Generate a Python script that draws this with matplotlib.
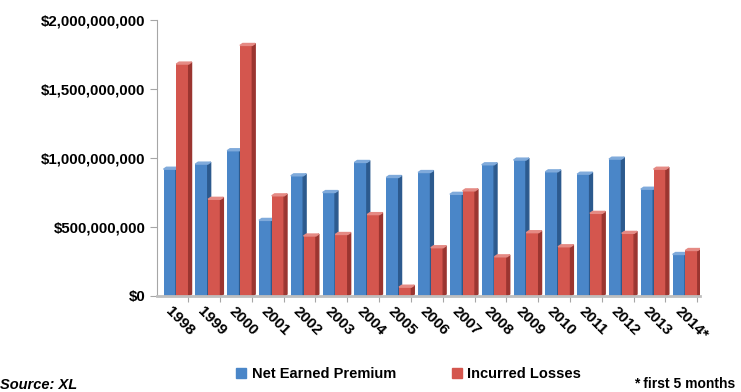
import numpy as np
import matplotlib
matplotlib.use('Agg')
import matplotlib.pyplot as plt
from matplotlib.patches import Polygon
from matplotlib.lines import Line2D
import matplotlib.transforms as mtransforms

years = ['1998', '1999', '2000', '2001', '2002', '2003', '2004', '2005', '2006',
         '2007', '2008', '2009', '2010', '2011', '2012', '2013', '2014*']
# values in $ millions
premium = [933, 970, 1067, 562, 885, 764, 982, 873, 909,
           751, 965, 999, 914, 897, 1006, 788, 315]
losses = [1695, 715, 1830, 740, 449, 460, 604, 78, 364,
          776, 298, 473, 371, 613, 468, 933, 344]
yticks = [0, 500, 1000, 1500, 2000]
ytick_labels = ['$0', '$500,000,000', '$1,000,000,000', '$1,500,000,000', '$2,000,000,000']

plt.rcParams['font.family'] = ['Liberation Sans', 'DejaVu Sans']

blue, blue_side, blue_top = '#4A86C8', '#2C5A8E', '#7FAADB'
red, red_side, red_top = '#D4564E', '#9B3530', '#E58A84'

fig = plt.figure(figsize=(7.41, 3.92), dpi=100)
ax = fig.add_axes([0.2119, 0.2449, 0.733, 0.704])

x = np.arange(len(years))
w = 0.39
dx = 0.09
dy = 14

def bars3d(xs, vals, c, cside, ctop):
    vals = np.array(vals) - dy
    ax.bar(xs, vals, width=w, color=c, zorder=2)
    for xi, v in zip(xs, vals):
        r = xi + w / 2
        l = xi - w / 2
        ax.add_patch(Polygon([(r, 0), (r + dx, dy), (r + dx, v + dy), (r, v)],
                             closed=True, color=cside, zorder=2))
        ax.add_patch(Polygon([(l, v), (l + dx, v + dy), (r + dx, v + dy), (r, v)],
                             closed=True, color=ctop, zorder=2))

bars3d(x - 0.2, premium, blue, blue_side, blue_top)
bars3d(x + 0.2, losses, red, red_side, red_top)

ax.set_xlim(-0.6, 16.47)
ax.set_ylim(0, 2000)
ax.set_yticks(yticks)
ax.set_yticklabels(ytick_labels, fontsize=10.8, fontweight='bold')
ax.tick_params(axis='y', length=5, color='#A6A6A6', pad=3.5)
ax.set_xticks(x + 0.38)
ax.set_xticklabels([])
ax.tick_params(axis='x', length=4, color='#A6A6A6')

for s in ['top', 'right']:
    ax.spines[s].set_visible(False)
ax.spines['left'].set_color('#A6A6A6')
ax.spines['bottom'].set_color('#BFBFBF')
ax.spines['bottom'].set_linewidth(2)

trans = mtransforms.blended_transform_factory(ax.transData, ax.transAxes)
for xi, lab in zip(x, years):
    ax.text(xi - 0.1, -0.03, lab, transform=trans, rotation=-45,
            rotation_mode='anchor', ha='left', va='top',
            fontsize=11, fontweight='bold')

handles = [Line2D([], [], marker='s', linestyle='', color=blue, markersize=7),
           Line2D([], [], marker='s', linestyle='', color=red, markersize=7)]
fig.legend(handles, ['Net Earned Premium', 'Incurred Losses'], loc='center',
           bbox_to_anchor=(0.551, 0.045), ncol=2, frameon=False,
           prop={'size': 10.5, 'weight': 'bold'}, handlelength=0.8,
           handletextpad=0.3, columnspacing=3.8)

fig.text(0.0, 0.008, 'Source: XL', fontsize=10.5, fontweight='bold', style='italic')
fig.text(0.992, 0.01, '* first 5 months', fontsize=10, fontweight='bold', ha='right')

fig.savefig('out.png', dpi=100)
